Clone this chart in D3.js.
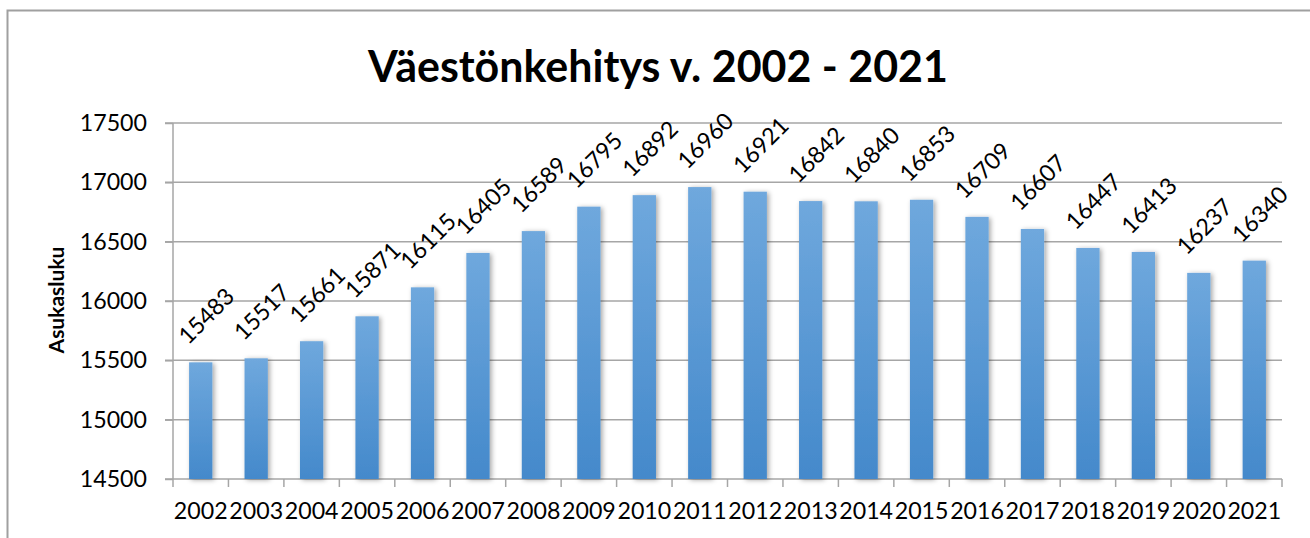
<!DOCTYPE html>
<html lang="fi">
<head>
  <meta charset="UTF-8">
  <title>Väestönkehitys v. 2002 - 2021</title>
  <script src="https://d3js.org/d3.v7.min.js"></script>
  <style>
    body { margin: 0; background: #fff; }
    svg { display: block; }
    text { font-family: Lato, "Open Sans", sans-serif; fill: #000; }
    .grid line { stroke: #a6a6a6; stroke-width: 1.5; }
    .axis path, .axis line { stroke: #a6a6a6; stroke-width: 1.5; }
  </style>
</head>
<body>
<svg width="1310" height="538"></svg>

<script>
  const years = ["2002","2003","2004","2005","2006","2007","2008","2009","2010","2011",
                 "2012","2013","2014","2015","2016","2017","2018","2019","2020","2021"];
  const population = [15483, 15517, 15661, 15871, 16115, 16405, 16589, 16795, 16892, 16960,
                      16921, 16842, 16840, 16853, 16709, 16607, 16447, 16413, 16237, 16340];
  const yTicks = [14500, 15000, 15500, 16000, 16500, 17000, 17500];
  const title = "Väestönkehitys v. 2002 - 2021";
  const yLabel = "Asukasluku";

  const svg = d3.select("svg");
  const plotLeft = 173, plotRight = 1282, plotTop = 123, plotBottom = 479;
  const fontSize = "23.2px";

  // outer chart frame (right and bottom edges fall outside the picture)
  svg.append("rect")
    .attr("x", 7.5).attr("y", 10.5)
    .attr("width", 1320).attr("height", 560)
    .attr("fill", "none")
    .attr("stroke", "#a0a0a0")
    .attr("stroke-width", 2);

  const x = d3.scaleBand()
    .domain(years)
    .range([plotLeft, plotRight])
    .paddingInner(0.58)
    .paddingOuter(0.29);

  const y = d3.scaleLinear()
    .domain([14500, 17500])
    .range([plotBottom, plotTop]);

  // bar gradient + shadow
  const defs = svg.append("defs");
  const grad = defs.append("linearGradient")
    .attr("id", "barGrad")
    .attr("x1", 0).attr("y1", 0).attr("x2", 0).attr("y2", 1);
  grad.append("stop").attr("offset", "0%").attr("stop-color", "#6fa8dd");
  grad.append("stop").attr("offset", "100%").attr("stop-color", "#4489cb");

  const shadow = defs.append("filter")
    .attr("id", "shadow")
    .attr("x", "-50%").attr("y", "-10%")
    .attr("width", "200%").attr("height", "120%");
  shadow.append("feDropShadow")
    .attr("dx", 2).attr("dy", 1)
    .attr("stdDeviation", 2.5)
    .attr("flood-color", "#000")
    .attr("flood-opacity", 0.35);

  // gridlines
  svg.append("g")
    .attr("class", "grid")
    .selectAll("line")
    .data(yTicks)
    .join("line")
    .attr("x1", plotLeft - 8)
    .attr("x2", plotRight)
    .attr("y1", d => y(d))
    .attr("y2", d => y(d));

  // y axis
  const yAxis = svg.append("g")
    .attr("class", "axis")
    .attr("transform", `translate(${plotLeft},0)`)
    .call(d3.axisLeft(y).tickValues(yTicks).tickSize(8).tickPadding(18).tickFormat(d3.format("d")));
  yAxis.select(".domain").attr("d", `M0,${plotTop}V${plotBottom}`);
  yAxis.selectAll("text").style("font-size", fontSize).style("font-family", "Lato, sans-serif");

  // x axis
  const xAxis = svg.append("g")
    .attr("class", "axis")
    .attr("transform", `translate(0,${plotBottom})`)
    .call(d3.axisBottom(x).tickSize(0).tickPadding(24));
  xAxis.select(".domain").remove();
  xAxis.selectAll("text").style("font-size", fontSize).style("font-family", "Lato, sans-serif");

  // category boundary ticks
  const step = x.step();
  svg.append("g")
    .attr("class", "axis")
    .selectAll("line")
    .data(d3.range(years.length + 1))
    .join("line")
    .attr("x1", i => plotLeft + i * step)
    .attr("x2", i => plotLeft + i * step)
    .attr("y1", plotBottom)
    .attr("y2", plotBottom + 8);

  // bars
  svg.append("g")
    .selectAll("rect")
    .data(population)
    .join("rect")
    .attr("x", (d, i) => x(years[i]))
    .attr("y", d => y(d))
    .attr("width", x.bandwidth())
    .attr("height", d => plotBottom - y(d))
    .attr("fill", "url(#barGrad)")
    .attr("filter", "url(#shadow)");

  // value labels, rotated
  svg.append("g")
    .selectAll("text")
    .data(population)
    .join("text")
    .attr("text-anchor", "middle")
    .attr("dominant-baseline", "central")
    .attr("transform", (d, i) => {
      const cx = x(years[i]) + x.bandwidth() / 2 + 5;
      return `translate(${cx},${y(d) - 47}) rotate(-45)`;
    })
    .style("font-size", fontSize)
    .text(d => d);

  // title, sized to the reference width
  const t = svg.append("text")
    .attr("x", 658)
    .attr("y", 82)
    .attr("text-anchor", "middle")
    .style("font-weight", "bold")
    .style("font-size", "44px")
    .text(title);
  const tw = t.node().getComputedTextLength();
  t.style("font-size", (44 * 580 / tw) + "px");

  // y axis label
  svg.append("text")
    .attr("transform", "translate(64,300) rotate(-90)")
    .attr("text-anchor", "middle")
    .style("font-weight", "bold")
    .style("font-size", "21px")
    .text(yLabel);
</script>
</body>
</html>
